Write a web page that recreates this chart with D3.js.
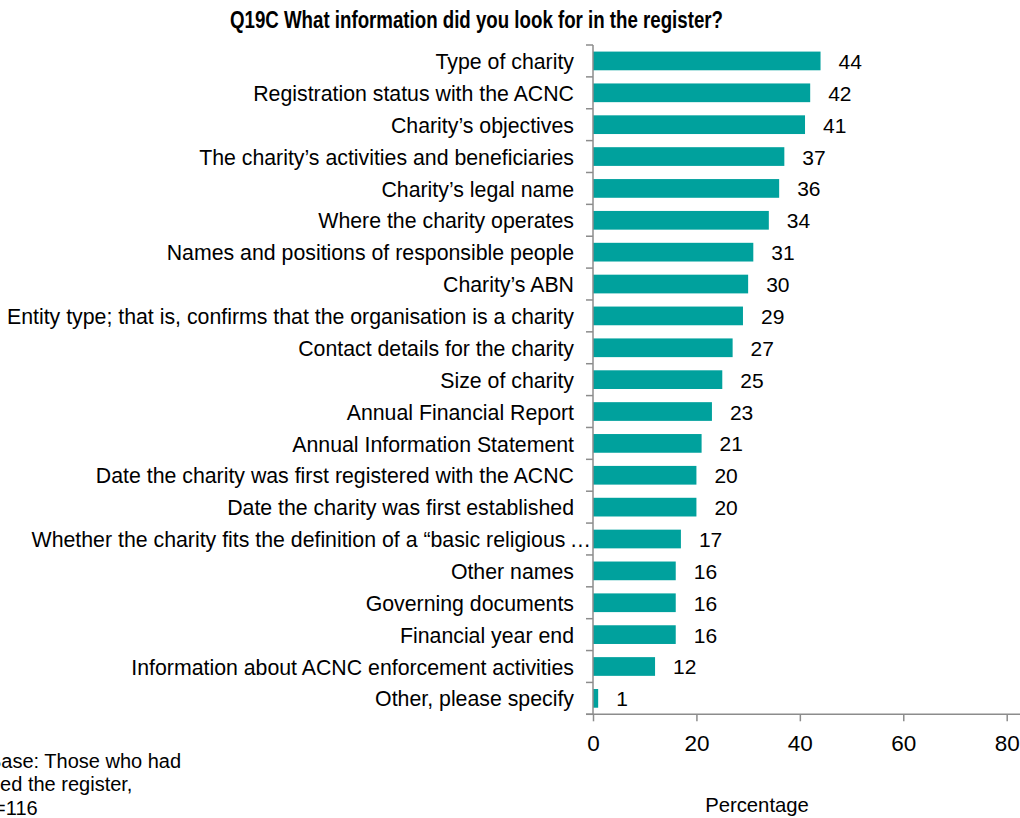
<!DOCTYPE html>
<html>
<head>
<meta charset="utf-8">
<script src="https://cdn.jsdelivr.net/npm/d3@7"></script>
<style>
  html, body { margin: 0; padding: 0; background: #fff; }
  svg { display: block; font-family: "Liberation Sans", Arial, sans-serif; }
</style>
</head>
<body>
<svg id="chart" width="1020" height="818"></svg>
<script>
// Survey answers: what information respondents looked for in the register (%)
const categories = [
  "Type of charity",
  "Registration status with the ACNC",
  "Charity\u2019s objectives",
  "The charity\u2019s activities and beneficiaries",
  "Charity\u2019s legal name",
  "Where the charity operates",
  "Names and positions of responsible people",
  "Charity\u2019s ABN",
  "Entity type; that is, confirms that the organisation is a charity",
  "Contact details for the charity",
  "Size of charity",
  "Annual Financial Report",
  "Annual Information Statement",
  "Date the charity was first registered with the ACNC",
  "Date the charity was first established",
  "Whether the charity fits the definition of a \u201cbasic religious\u2009\u2026",
  "Other names",
  "Governing documents",
  "Financial year end",
  "Information about ACNC enforcement activities",
  "Other, please specify"
];
const percentages = [44, 42, 41, 37, 36, 34, 31, 30, 29, 27, 25, 23, 21, 20, 20, 17, 16, 16, 16, 12, 1];
const xTicks = [0, 20, 40, 60, 80];

const titleText = "Q19C What information did you look for in the register?";
const xAxisTitle = "Percentage";
const baseNote = ["Base: Those who had", "used the register,", "n=116"];

const barColor = "#00A19D";
const axisColor = "#8c8c8c";

const svg = d3.select("#chart");

const plot = { left: 593, right: 1006.7, top: 45, bottom: 714.3 };

const x = d3.scaleLinear().domain([0, 80]).range([plot.left, plot.right]);
const y = d3.scaleBand()
  .domain(categories)
  .range([plot.top, plot.bottom])
  .paddingInner(0.413)
  .paddingOuter(0.2065);

const step = y.step();

// Title (set in a condensed bold face)
svg.append("text")
  .attr("x", 476.5)
  .attr("y", 27.5)
  .attr("text-anchor", "middle")
  .attr("font-size", 23)
  .attr("font-weight", "bold")
  .attr("fill", "#000")
  .attr("textLength", 493)
  .attr("lengthAdjust", "spacingAndGlyphs")
  .text(titleText);

// Bars
svg.append("g")
  .selectAll("rect")
  .data(categories)
  .join("rect")
  .attr("x", x(0))
  .attr("y", d => y(d))
  .attr("width", (d, i) => x(percentages[i]) - x(0))
  .attr("height", y.bandwidth())
  .attr("fill", barColor);

// Value labels
svg.append("g")
  .selectAll("text")
  .data(categories)
  .join("text")
  .attr("x", (d, i) => x(percentages[i]) + 18)
  .attr("y", d => y(d) + y.bandwidth() / 2)
  .attr("dy", "0.38em")
  .attr("font-size", 21)
  .attr("fill", "#000")
  .text((d, i) => percentages[i]);

// Category axis: labels at band centres, ticks on band boundaries
const yAxis = svg.append("g")
  .attr("transform", `translate(${plot.left},0)`)
  .call(d3.axisLeft(y).tickSize(0).tickPadding(19));
yAxis.select(".domain").remove();
yAxis.selectAll("text")
  .attr("font-size", 21.3)
  .attr("font-family", "Liberation Sans, Arial, sans-serif")
  .attr("fill", "#000")
  .attr("dy", "0.38em")
  .attr("x", d => d.endsWith("\u2026") ? -2 : -19);

const boundaries = d3.range(categories.length + 1).map(i => plot.top + i * step);
svg.append("g")
  .selectAll("line")
  .data(boundaries)
  .join("line")
  .attr("x1", plot.left - 7)
  .attr("x2", plot.left)
  .attr("y1", d => d)
  .attr("y2", d => d)
  .attr("stroke", axisColor)
  .attr("stroke-width", 1.5);

svg.append("line")
  .attr("x1", plot.left)
  .attr("x2", plot.left)
  .attr("y1", plot.top)
  .attr("y2", plot.bottom)
  .attr("stroke", axisColor)
  .attr("stroke-width", 1.5);

// Value axis
const xAxis = svg.append("g")
  .attr("transform", `translate(0,${plot.bottom})`)
  .call(d3.axisBottom(x).tickValues(xTicks).tickSize(7).tickPadding(14).tickSizeOuter(0));
xAxis.select(".domain")
  .attr("stroke", axisColor)
  .attr("stroke-width", 1.5)
  .attr("d", `M${plot.left - 7},0H${plot.right + 14}`);
xAxis.selectAll(".tick line").attr("stroke", axisColor).attr("stroke-width", 1.5);
xAxis.selectAll(".tick text")
  .attr("font-size", 22.5)
  .attr("font-family", "Liberation Sans, Arial, sans-serif")
  .attr("fill", "#000");

// Axis title
svg.append("text")
  .attr("x", 757)
  .attr("y", 811.5)
  .attr("text-anchor", "middle")
  .attr("font-size", 20.3)
  .attr("fill", "#000")
  .text(xAxisTitle);

// Base note, partly running off the left edge of the page
const noteX = [-12, -21, -17];
svg.append("g")
  .selectAll("text")
  .data(baseNote)
  .join("text")
  .attr("x", (d, i) => noteX[i])
  .attr("y", (d, i) => 767.7 + i * 23.7)
  .attr("font-size", 20)
  .attr("fill", "#000")
  .text(d => d);
</script>
</body>
</html>
